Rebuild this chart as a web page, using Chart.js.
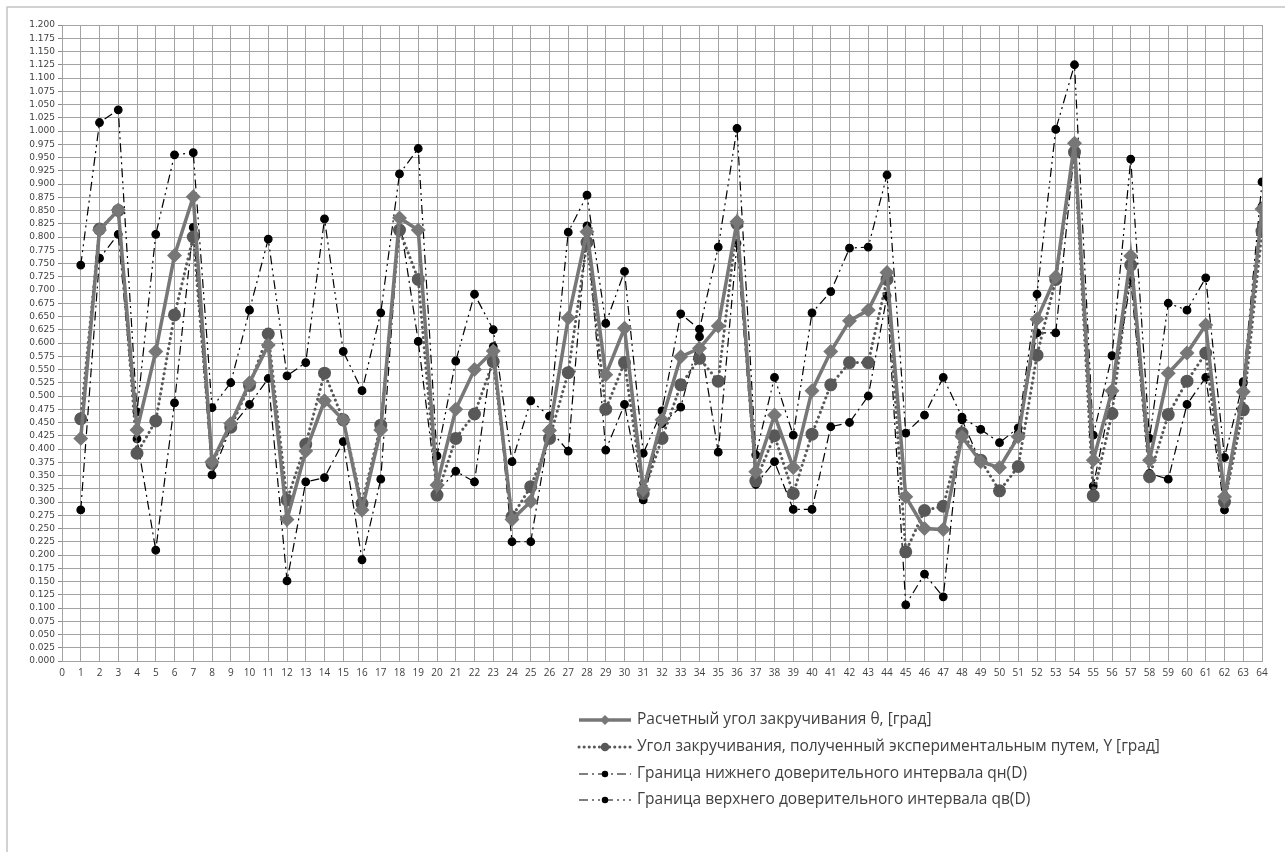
<!DOCTYPE html>
<html>
<head>
<meta charset="utf-8">
<script src="https://cdn.jsdelivr.net/npm/chart.js@4/dist/chart.umd.min.js"></script>
<style>
html,body{margin:0;padding:0;background:#fff;}
#wrap{position:relative;width:1285px;height:852px;}
</style>
</head>
<body>
<div id="wrap"><canvas id="c" width="1285" height="852"></canvas></div>
<script>
const categories = [1,2,3,4,5,6,7,8,9,10,11,12,13,14,15,16,17,18,19,20,21,22,23,24,25,26,27,28,29,30,31,32,33,34,35,36,37,38,39,40,41,42,43,44,45,46,47,48,49,50,51,52,53,54,55,56,57,58,59,60,61,62,63,64];

const thetaCalc = [0.420,0.813,0.851,0.436,0.584,0.765,0.876,0.376,0.448,0.525,
  0.596,0.267,0.396,0.491,0.455,0.285,0.436,0.836,0.813,0.332,
  0.475,0.550,0.585,0.267,0.301,0.435,0.647,0.810,0.540,0.628,
  0.323,0.455,0.574,0.590,0.632,0.829,0.357,0.464,0.365,0.510,
  0.584,0.642,0.662,0.733,0.310,0.250,0.248,0.423,0.376,0.365,
  0.423,0.645,0.725,0.977,0.379,0.510,0.764,0.379,0.543,0.581,
  0.634,0.310,0.508,0.853];

const yExperimental = [0.457,0.815,0.850,0.392,0.453,0.653,0.800,0.373,0.441,0.520,
  0.617,0.304,0.409,0.543,0.455,0.297,0.445,0.813,0.720,0.313,
  0.420,0.466,0.565,0.272,0.329,0.420,0.544,0.790,0.475,0.563,
  0.316,0.420,0.521,0.571,0.528,0.825,0.340,0.425,0.316,0.428,
  0.521,0.563,0.563,0.720,0.206,0.284,0.292,0.430,0.379,0.321,
  0.367,0.577,0.720,0.960,0.312,0.467,0.747,0.348,0.465,0.528,
  0.581,0.300,0.474,0.811];

const lowerBound = [0.285,0.760,0.805,0.419,0.209,0.487,0.818,0.351,0.440,0.484,
  0.533,0.151,0.338,0.346,0.414,0.191,0.343,0.836,0.603,0.318,
  0.358,0.338,0.593,0.225,0.225,0.437,0.396,0.821,0.398,0.484,
  0.304,0.448,0.479,0.612,0.394,0.788,0.333,0.376,0.286,0.286,
  0.442,0.450,0.500,0.689,0.106,0.164,0.121,0.455,0.374,0.365,
  0.430,0.619,0.619,0.965,0.330,0.504,0.718,0.354,0.343,0.484,
  0.535,0.285,0.524,0.858];

const upperBound = [0.747,1.016,1.040,0.470,0.805,0.955,0.959,0.478,0.525,0.662,
  0.796,0.538,0.563,0.834,0.584,0.510,0.657,0.919,0.967,0.387,
  0.566,0.692,0.625,0.376,0.491,0.462,0.809,0.879,0.637,0.735,
  0.392,0.472,0.655,0.626,0.781,1.005,0.389,0.535,0.426,0.657,
  0.697,0.779,0.781,0.917,0.430,0.464,0.535,0.460,0.437,0.412,
  0.440,0.692,1.003,1.125,0.426,0.576,0.947,0.420,0.675,0.662,
  0.723,0.384,0.527,0.904];

const seriesLabels = [
  'Расчетный угол закручивания θ, [град]',
  'Угол закручивания, полученный экспериментальным путем, Y [град]',
  'Граница нижнего доверительного интервала qн(D)',
  'Граница верхнего доверительного интервала qв(D)'
];

const yMin = 0, yMax = 1.2, yStep = 0.025;
const xMin = 0, xMax = 64, xStep = 1;

function pts(arr){ return categories.map((c,i)=>({x:c, y:arr[i]})); }

const GRID = '#a3a3a3';

const legendPlugin = {
  id: 'customLegend',
  afterDraw(chart){
    const ctx = chart.ctx;
    const x0 = 579, x1 = 631, tx = 637;
    const rows = [720, 747, 774, 800];
    ctx.save();
    chart.data.datasets.forEach((ds, i) => {
      const y = rows[i];
      ctx.beginPath();
      ctx.strokeStyle = ds.borderColor;
      ctx.lineWidth = ds.borderWidth;
      ctx.lineCap = ds.borderCapStyle || 'butt';
      ctx.setLineDash(ds.borderDash || []);
      ctx.moveTo(x0, y); ctx.lineTo(x1, y);
      ctx.stroke();
      ctx.setLineDash([]);
      ctx.fillStyle = ds.pointBackgroundColor;
      ctx.beginPath();
      const cx = (x0 + x1) / 2;
      if (ds.pointStyle === 'rectRot') {
        const r = ds.pointRadius;
        ctx.moveTo(cx, y - r); ctx.lineTo(cx + r, y); ctx.lineTo(cx, y + r); ctx.lineTo(cx - r, y); ctx.closePath();
      } else {
        ctx.arc(cx, y, ds.pointRadius * 0.85, 0, Math.PI*2);
      }
      ctx.fill();
      ctx.fillStyle = '#404040';
      ctx.font = '15.5px "Open Sans", sans-serif';
      ctx.textBaseline = 'middle';
      ctx.textAlign = 'left';
      ctx.fillText(ds.label, tx, y);
    });
    // outer frame
    ctx.strokeStyle = '#c4c4c4';
    ctx.lineWidth = 1.5;
    ctx.beginPath();
    ctx.moveTo(7, 852); ctx.lineTo(7, 7); ctx.lineTo(1285, 7);
    ctx.stroke();
    ctx.restore();
  }
};

new Chart(document.getElementById('c'), {
  type: 'line',
  data: {
    datasets: [
      {
        label: seriesLabels[0], data: pts(thetaCalc),
        borderColor: '#777777', backgroundColor: '#777777', borderWidth: 3.5,
        pointStyle: 'rectRot', pointRadius: 5, pointBackgroundColor: '#777777', pointBorderColor: '#777777',
        tension: 0
      },
      {
        label: seriesLabels[1], data: pts(yExperimental),
        borderColor: '#585858', backgroundColor: '#585858', borderWidth: 3,
        borderDash: [0.1, 5], borderCapStyle: 'round',
        pointStyle: 'circle', pointRadius: 5, pointBackgroundColor: '#585858', pointBorderColor: '#585858',
        tension: 0
      },
      {
        label: seriesLabels[2], data: pts(lowerBound),
        borderColor: '#000000', backgroundColor: '#000000', borderWidth: 1.2,
        borderDash: [9, 4, 2, 4],
        pointStyle: 'circle', pointRadius: 3.8, pointBackgroundColor: '#000000', pointBorderColor: '#000000',
        tension: 0
      },
      {
        label: seriesLabels[3], data: pts(upperBound),
        borderColor: '#000000', backgroundColor: '#000000', borderWidth: 1.2,
        borderDash: [9, 4, 2, 4, 2, 4],
        pointStyle: 'circle', pointRadius: 3.8, pointBackgroundColor: '#000000', pointBorderColor: '#000000',
        tension: 0
      }
    ]
  },
  options: {
    responsive: false,
    animation: false,
    devicePixelRatio: 1,
    layout: { padding: { left: 0, right: 23, top: 25, bottom: 171 } },
    plugins: { legend: { display: false }, tooltip: { enabled: false } },
    scales: {
      x: {
        type: 'linear', min: xMin, max: xMax,
        afterFit(s){ s.height = 20; },
        ticks: { stepSize: xStep, autoSkip: false, maxRotation: 0, maxTicksLimit: 200,
          color: '#404040', font: { family: '"Open Sans", sans-serif', size: 10 }, padding: 6 },
        grid: { color: GRID, lineWidth: 1, drawTicks: false },
        border: { color: GRID, width: 1 }
      },
      y: {
        type: 'linear', min: yMin, max: yMax,
        afterFit(s){ s.width = 62; },
        ticks: { stepSize: yStep, autoSkip: false, maxTicksLimit: 200,
          callback: v => Number(v).toFixed(3),
          color: '#404040', font: { family: '"DejaVu Sans", sans-serif', size: 9 }, padding: 3 },
        grid: { color: GRID, lineWidth: 1, tickLength: 4, tickColor: '#8a8a8a' },
        border: { color: GRID, width: 1 }
      }
    }
  },
  plugins: [legendPlugin]
});
</script>
</body>
</html>
